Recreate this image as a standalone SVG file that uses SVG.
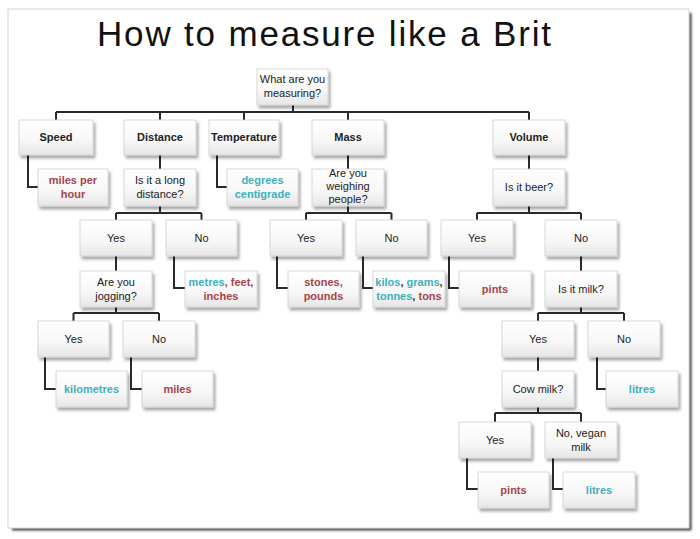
<svg xmlns="http://www.w3.org/2000/svg" width="700" height="539" viewBox="0 0 700 539">
<defs>
<linearGradient id="g" x1="0" y1="0" x2="0" y2="1">
<stop offset="0" stop-color="#ffffff"/>
<stop offset="0.6" stop-color="#f7f7f7"/>
<stop offset="1" stop-color="#e6e6e6"/>
</linearGradient>
<filter id="sh" x="-20%" y="-20%" width="150%" height="160%">
<feDropShadow dx="2" dy="3" stdDeviation="1.8" flood-color="#000" flood-opacity="0.35"/>
</filter>
<filter id="fsh" x="-5%" y="-5%" width="110%" height="110%">
<feGaussianBlur stdDeviation="1"/>
</filter>
<style>
.box{fill:url(#g);stroke:#cfcfcf;stroke-width:0.8;filter:url(#sh)}
.t{font-family:"Liberation Sans",Arial,sans-serif;font-size:11px;fill:#222;text-anchor:middle}
.b{font-weight:bold}
.red{fill:#a8434b}
.teal{fill:#3eb1bb}
.dk{fill:#333}
.conn{stroke:#2a2a2a;stroke-width:2;fill:none}
.title{font-family:"Liberation Sans",Arial,sans-serif;font-size:35px;fill:#111;text-anchor:middle}
</style>
</defs>
<rect width="700" height="539" fill="#fff"/>
<path d="M690,13 V529 H12" fill="none" stroke="#444" stroke-width="3" filter="url(#fsh)"/>
<rect x="8" y="9" width="681" height="519" fill="#fff" stroke="#d4d4d4" stroke-width="1"/>
<text class="title" x="324" y="46" textLength="454" lengthAdjust="spacing">How to measure like a Brit</text>

<g id="connectors">
<path class="conn" d="M293,105 V112 M56,112 H529 M56,112 V120 M160,112 V120 M244,112 V120 M348,112 V120 M529,112 V120"/>
<path class="conn" d="M28,155 V187 H38 M217,155 V187 H227 M160,155 V169 M348,155 V169 M529,155 V169"/>
<path class="conn" d="M160,206 V213 M116,213 H201.5 M116,213 V220 M201.5,213 V220"/>
<path class="conn" d="M348,206 V213 M306,213 H391.5 M306,213 V220 M391.5,213 V220"/>
<path class="conn" d="M529,206 V213 M477,213 H581 M477,213 V220 M581,213 V220"/>
<path class="conn" d="M116,256 V271 M174,256 V288 H185 M277,256 V288 H288 M363,256 V288 H373 M449,256 V288 H459 M581,256 V271"/>
<path class="conn" d="M116,307 V313 M73.5,313 H159 M73.5,313 V321 M159,313 V321"/>
<path class="conn" d="M581,307 V313 M538,313 H624 M538,313 V321 M624,313 V321"/>
<path class="conn" d="M45,357 V389 H56 M131,357 V389 H142 M538,357 V371 M597,357 V389 H606"/>
<path class="conn" d="M538,407 V413 M495,413 H581 M495,413 V422 M581,413 V422"/>
<path class="conn" d="M467,458 V489 H478 M553,458 V489 H563"/>
</g>

<g id="root"><rect class="box" x="257" y="69" width="71" height="36"/><text class="t" x="292.5" y="83">What are you</text><text class="t" x="292.5" y="97">measuring?</text></g>

<g id="speed"><rect class="box" x="19" y="120" width="74" height="35"/><text class="t b" x="56" y="141">Speed</text></g>
<g id="distance"><rect class="box" x="124" y="120" width="72" height="35"/><text class="t b" x="160" y="141">Distance</text></g>
<g id="temperature"><rect class="box" x="209" y="120" width="70" height="35"/><text class="t b" x="244" y="141">Temperature</text></g>
<g id="mass"><rect class="box" x="312" y="120" width="72" height="35"/><text class="t b" x="348" y="141">Mass</text></g>
<g id="volume"><rect class="box" x="493" y="120" width="72" height="35"/><text class="t b" x="529" y="141">Volume</text></g>

<g id="mph"><rect class="box" x="38" y="169" width="70" height="37"/><text class="t b red" x="73" y="184">miles per</text><text class="t b red" x="73" y="198">hour</text></g>
<g id="longdistance"><rect class="box" x="124" y="169" width="72" height="37"/><text class="t" x="160" y="184">Is it a long</text><text class="t" x="160" y="198">distance?</text></g>
<g id="degrees"><rect class="box" x="227" y="169" width="71" height="37"/><text class="t b teal" x="262.5" y="184">degrees</text><text class="t b teal" x="262.5" y="198">centigrade</text></g>
<g id="weighing"><rect class="box" x="312" y="169" width="72" height="37"/><text class="t" x="348" y="177">Are you</text><text class="t" x="348" y="190">weighing</text><text class="t" x="348" y="203">people?</text></g>
<g id="beer"><rect class="box" x="493" y="169" width="72" height="37"/><text class="t" x="529" y="191">Is it beer?</text></g>

<g id="dist-yes"><rect class="box" x="80" y="220" width="72" height="36"/><text class="t" x="116" y="242">Yes</text></g>
<g id="dist-no"><rect class="box" x="166" y="220" width="71" height="36"/><text class="t" x="201.5" y="242">No</text></g>
<g id="mass-yes"><rect class="box" x="270" y="220" width="72" height="36"/><text class="t" x="306" y="242">Yes</text></g>
<g id="mass-no"><rect class="box" x="356" y="220" width="71" height="36"/><text class="t" x="391.5" y="242">No</text></g>
<g id="beer-yes"><rect class="box" x="441" y="220" width="72" height="36"/><text class="t" x="477" y="242">Yes</text></g>
<g id="beer-no"><rect class="box" x="545" y="220" width="72" height="36"/><text class="t" x="581" y="242">No</text></g>

<g id="jogging"><rect class="box" x="80" y="271" width="72" height="36"/><text class="t" x="116" y="286">Are you</text><text class="t" x="116" y="300">jogging?</text></g>
<g id="metres"><rect class="box" x="185" y="271" width="72" height="36"/><text class="t b" x="221" y="286"><tspan class="teal">metres</tspan><tspan class="red">, feet,</tspan></text><text class="t b red" x="221" y="300">inches</text></g>
<g id="stones"><rect class="box" x="288" y="271" width="71" height="36"/><text class="t b red" x="323.5" y="286">stones,</text><text class="t b red" x="323.5" y="300">pounds</text></g>
<g id="kilos"><rect class="box" x="373" y="271" width="72" height="36"/><text class="t b" x="409" y="286"><tspan class="teal">kilos</tspan><tspan class="dk">, </tspan><tspan class="teal">grams</tspan><tspan class="dk">,</tspan></text><text class="t b" x="409" y="300"><tspan class="teal">tonnes</tspan><tspan class="dk">, </tspan><tspan class="red">tons</tspan></text></g>
<g id="pints1"><rect class="box" x="459" y="271" width="72" height="36"/><text class="t b red" x="495" y="293">pints</text></g>
<g id="milk"><rect class="box" x="545" y="271" width="72" height="36"/><text class="t" x="581" y="293">Is it milk?</text></g>

<g id="jog-yes"><rect class="box" x="38" y="321" width="71" height="36"/><text class="t" x="73.5" y="343">Yes</text></g>
<g id="jog-no"><rect class="box" x="123" y="321" width="72" height="36"/><text class="t" x="159" y="343">No</text></g>
<g id="milk-yes"><rect class="box" x="502" y="321" width="72" height="36"/><text class="t" x="538" y="343">Yes</text></g>
<g id="milk-no"><rect class="box" x="588" y="321" width="72" height="36"/><text class="t" x="624" y="343">No</text></g>

<g id="kilometres"><rect class="box" x="56" y="371" width="71" height="36"/><text class="t b teal" x="91.5" y="393">kilometres</text></g>
<g id="miles"><rect class="box" x="142" y="371" width="71" height="36"/><text class="t b red" x="177.5" y="393">miles</text></g>
<g id="cowmilk"><rect class="box" x="502" y="371" width="72" height="36"/><text class="t" x="538" y="393">Cow milk?</text></g>
<g id="litres1"><rect class="box" x="606" y="371" width="72" height="36"/><text class="t b teal" x="642" y="393">litres</text></g>

<g id="cow-yes"><rect class="box" x="459" y="422" width="72" height="36"/><text class="t" x="495" y="444">Yes</text></g>
<g id="cow-no"><rect class="box" x="545" y="422" width="72" height="36"/><text class="t" x="581" y="437">No, vegan</text><text class="t" x="581" y="451">milk</text></g>

<g id="pints2"><rect class="box" x="478" y="472" width="71" height="36"/><text class="t b red" x="513.5" y="494">pints</text></g>
<g id="litres2"><rect class="box" x="563" y="472" width="72" height="36"/><text class="t b teal" x="599" y="494">litres</text></g>
</svg>
